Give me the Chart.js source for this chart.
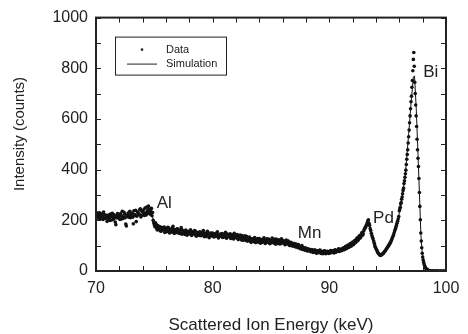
<!DOCTYPE html>
<html>
<head>
<meta charset="utf-8">
<script src="https://cdn.jsdelivr.net/npm/chart.js@4.4.0/dist/chart.umd.min.js"></script>
<style>
  html, body { margin: 0; padding: 0; background: #fff; }
</style>
</head>
<body>
<canvas id="myChart" width="468" height="334"></canvas>
<script>
const lowStart = 70.0, lowStep = 0.1;
const countsLow = [
  225, 208, 221, 230, 212, 218, 203, 224, 210, 219,
  206, 222, 199, 215, 228, 204, 213, 183, 220, 209,
  217, 226, 205, 214, 232, 210, 178, 221, 212, 236,
  218, 229, 186, 223, 240, 216, 231, 222, 245, 219,
  234, 226, 248, 221, 238, 256, 229, 236, 218, 200,
  182, 190, 168, 179, 163, 174, 158, 171, 165, 152,
  168, 157, 171, 150, 163, 159, 176, 148, 160, 154,
  166, 149, 158, 171, 145, 155, 150, 162, 141, 156,
  149, 163, 140, 152, 146, 158, 137, 150, 144, 155,
  139, 148, 160, 135, 146, 141, 152, 131, 145, 138,
  150, 134, 143, 139, 155, 130, 142, 137, 148, 133,
  141, 153, 129, 140, 136, 147, 131, 143, 126, 138,
  132, 144, 124, 136, 129, 140, 121, 133, 125, 137,
  118, 130, 124, 113, 127, 119, 132, 112, 123, 117,
  128, 110, 121, 116, 131, 109, 120, 114, 126, 108,
  119, 130, 111, 117, 106, 125, 113, 120, 107, 127,
  112, 118, 104, 122, 110, 115, 101, 113, 106, 98,
  108, 95, 103, 92, 99, 88, 96, 85, 93, 82,
  90, 79, 87, 83, 76, 85, 73, 81, 77, 70,
  79, 72, 83, 69, 76, 71, 80, 68, 77, 73,
  70, 81, 74, 78, 71, 84, 76, 80, 88, 79,
  86, 82, 92, 85, 97, 90, 102, 95, 108, 100,
  114, 107, 121, 115, 131, 125, 140, 134, 152, 147,
  165, 172, 183, 197, 188, 168, 149, 132, 118, 100,
  88, 79, 70, 64, 61, 66, 68, 75, 80, 88,
  95, 102, 110, 118, 131, 142, 158, 172, 188, 205
];
// second set of channels, half a step later
const lowStartB = 70.05;
const countsLowB = [
  212, 229, 217, 204, 226, 214, 233, 207, 220, 196,
  218, 209, 225, 201, 216, 222, 193, 210, 227, 214,
  203, 219, 236, 208, 224, 185, 217, 229, 221, 210,
  226, 212, 238, 219, 195, 233, 224, 242, 213, 236,
  241, 219, 230, 252, 227, 244, 224, 247, 231, 190,
  175, 184, 162, 176, 170, 157, 168, 162, 173, 160,
  155, 172, 161, 166, 153, 170, 158, 164, 151, 167,
  156, 161, 147, 164, 153, 159, 144, 158, 151, 146,
  157, 144, 155, 149, 160, 142, 153, 147, 140, 151,
  144, 153, 138, 149, 136, 157, 143, 137, 150, 142,
  139, 147, 136, 150, 141, 135, 146, 140, 132, 145,
  136, 131, 146, 138, 144, 128, 139, 134, 149, 132,
  138, 127, 134, 142, 123, 131, 127, 139, 120, 130,
  124, 134, 116, 126, 121, 115, 125, 120, 128, 113,
  118, 124, 113, 125, 119, 111, 127, 117, 112, 121,
  112, 122, 116, 126, 110, 118, 108, 123, 115, 111,
  119, 108, 116, 107, 119, 103, 111, 100, 109, 103,
  101, 106, 97, 104, 94, 91, 100, 89, 87, 91,
  84, 88, 80, 85, 79, 82, 76, 84, 72, 80,
  75, 81, 73, 78, 68, 79, 74, 71, 78, 69,
  77, 72, 80, 75, 82, 74, 79, 85, 77, 86,
  80, 89, 84, 94, 88, 99, 93, 105, 98, 111,
  104, 118, 112, 127, 120, 137, 130, 146, 141, 158,
  170, 178, 190, 202, 180, 160, 140, 126, 110, 94,
  84, 74, 67, 62, 63, 67, 71, 78, 84, 91,
  98, 106, 114, 124, 136, 150, 165, 180, 196, 215
];
const peakStart = 96.0, peakStep = 0.04;
const countsPeak = [
  238, 245, 252, 265, 270, 283, 292, 305, 318, 327,
  345, 356, 370, 384, 398, 420, 441, 460, 478, 505,
  530, 556, 585, 612, 640, 668, 690, 725, 752, 790,
  835, 862, 808, 745, 700, 655, 612, 570, 520, 478,
  445, 412, 365, 310, 255, 202, 150, 118, 92, 70,
  55, 44, 36, 28, 22, 17, 13, 10, 8, 6,
  5, 4, 3, 2, 2, 1
];
const tailStart = 98.7, tailStep = 0.1;
const countsTail = [1, 0, 1, 0, 0, 1, 0, 0, 0, 0, 0, 0, 0, 0];

// SIMULATION CURVE
const simEnergy = [
  70, 70.5, 71, 71.5, 72, 72.5, 73, 73.5, 74, 74.5,
  74.8, 75.0, 75.3, 75.6, 76, 76.5, 77, 77.5, 78, 78.5,
  79, 79.5, 80, 80.5, 81, 81.5, 82, 82.5, 83, 83.5,
  84, 84.5, 85, 85.5, 86, 86.5, 87, 87.5, 88, 88.5,
  89, 89.5, 90, 90.5, 91, 91.5, 92, 92.5, 93, 93.3,
  93.5, 93.8, 94.1, 94.4, 94.7, 95, 95.3, 95.6, 95.9, 96.2,
  96.5, 96.8, 97.0, 97.2, 97.3, 97.45, 97.6, 97.75, 97.85, 97.95,
  98.1, 98.3, 98.6, 99, 100
];
const simCounts = [
  218, 215, 212, 210, 212, 215, 220, 225, 230, 232,
  222, 185, 172, 166, 162, 158, 155, 152, 148, 146,
  143, 141, 140, 139, 138, 137, 133, 128, 123, 119,
  117, 116, 114, 113, 112, 110, 105, 96, 88, 82,
  78, 76, 76, 78, 84, 96, 112, 135, 165, 190,
  172, 118, 78, 64, 70, 92, 118, 158, 205, 282,
  375, 540, 660, 765, 770, 640, 460, 270, 140, 80,
  36, 14, 3, 0, 0
];

// PEAK LABELS
const peakNames = ["Al", "Mn", "Pd", "Bi"];
const peakEnergy = [75.2, 87.3, 93.75, 98.05];
const peakCounts = [268, 148, 209, 785];

// AXES
const xTickLabels = [70, 80, 90, 100];
const yTickLabels = [0, 200, 400, 600, 800, 1000];
const yTitle = "Intensity (counts)";

function toPoints(start, step, counts) {
  return counts.map(function (c, i) {
    return { x: +(start + i * step).toFixed(2), y: c };
  });
}

const measured = toPoints(lowStart, lowStep, countsLow)
  .concat(toPoints(lowStartB, lowStep, countsLowB))
  .concat(toPoints(peakStart, peakStep, countsPeak))
  .concat(toPoints(tailStart, tailStep, countsTail));

const simulated = simEnergy.map(function (e, i) {
  return { x: e, y: simCounts[i] };
});

Chart.defaults.font.family = '"Liberation Sans", Arial, Helvetica, sans-serif';
Chart.defaults.color = "#222";

// frame + inward minor ticks on all four sides, peak names, legend box, y title
const frameTicks = {
  id: "frameTicks",
  afterDraw(chart) {
    const { ctx, chartArea: a, scales } = chart;
    const x = scales.x, y = scales.y;
    ctx.save();
    ctx.strokeStyle = "#222";
    ctx.lineWidth = 1;
    ctx.beginPath();
    for (let v = 70; v <= 100; v += 2) {
      const px = Math.round(x.getPixelForValue(v)) + 0.5;
      ctx.moveTo(px, a.bottom); ctx.lineTo(px, a.bottom - 5);
      ctx.moveTo(px, a.top); ctx.lineTo(px, a.top + 5);
    }
    for (let v = 0; v <= 1000; v += 100) {
      const py = Math.round(y.getPixelForValue(v)) + 0.5;
      ctx.moveTo(a.left, py); ctx.lineTo(a.left + 5, py);
      ctx.moveTo(a.right, py); ctx.lineTo(a.right - 5, py);
    }
    ctx.stroke();
    ctx.lineWidth = 2;
    ctx.strokeRect(a.left, a.top, a.right - a.left, a.bottom - a.top);

    ctx.fillStyle = "#222";
    ctx.font = '17px "Liberation Sans", Arial, sans-serif';
    ctx.textAlign = "left";
    ctx.textBaseline = "middle";
    peakNames.forEach(function (name, i) {
      ctx.fillText(name, x.getPixelForValue(peakEnergy[i]), y.getPixelForValue(peakCounts[i]));
    });

    const lx = a.left + 19, ly = a.top + 19;
    ctx.lineWidth = 1;
    ctx.strokeRect(lx + 0.5, ly + 0.5, 111, 38);
    ctx.beginPath();
    ctx.arc(lx + 27, ly + 13, 1.3, 0, Math.PI * 2);
    ctx.fill();
    ctx.beginPath();
    ctx.moveTo(lx + 12, ly + 27.5);
    ctx.lineTo(lx + 42, ly + 27.5);
    ctx.stroke();
    ctx.font = '11px "Liberation Sans", Arial, sans-serif';
    const sets = chart.data.datasets;
    ctx.fillText(sets[0].label, lx + 51, ly + 13);
    ctx.fillText(sets[1].label, lx + 51, ly + 27);

    // y axis title, a little above the middle of the plot like the original
    ctx.translate(20, 134);
    ctx.rotate(-Math.PI / 2);
    ctx.textAlign = "center";
    ctx.font = '15px "Liberation Sans", Arial, sans-serif';
    ctx.fillText(yTitle, 0, 0);
    ctx.restore();
  }
};

const myChart = document.getElementById("myChart").getContext("2d");

const spectrumChart = new Chart(myChart, {
  type: "scatter",
  data: {
    datasets: [
      {
        label: "Data",
        data: measured,
        pointRadius: 1.8,
        pointBorderWidth: 0,
        pointBackgroundColor: "#111",
        showLine: false,
      },
      {
        label: "Simulation",
        type: "line",
        data: simulated,
        borderColor: "#111",
        borderWidth: 1,
        pointRadius: 0,
        tension: 0,
        fill: false,
      },
    ],
  },
  options: {
    responsive: false,
    animation: false,
    devicePixelRatio: 1,
    layout: { padding: { top: 15, right: 22, left: 0, bottom: 0 } },
    plugins: {
      legend: { display: false },
      tooltip: { enabled: false },
    },
    scales: {
      x: {
        type: "linear",
        min: 70,
        max: 100,
        afterFit: function (scale) { scale.height = 63; },
        afterBuildTicks: function (scale) {
          scale.ticks = xTickLabels.map(function (v) { return { value: v }; });
        },
        grid: { display: false, drawTicks: false },
        border: { display: false },
        ticks: {
          padding: 8,
          maxRotation: 0,
          font: { size: 16 },
          color: "#222",
          callback: function (value) { return String(value); },
        },
        title: {
          display: true,
          text: "Scattered Ion Energy (keV)",
          font: { size: 17, lineHeight: 1 },
          padding: { top: 0, bottom: 0 },
          color: "#222",
        },
      },
      y: {
        type: "linear",
        min: 0,
        max: 1000,
        afterFit: function (scale) { scale.width = 96; },
        afterBuildTicks: function (scale) {
          scale.ticks = yTickLabels.map(function (v) { return { value: v }; });
        },
        grid: { display: false, drawTicks: false },
        border: { display: false },
        ticks: {
          padding: 8,
          font: { size: 16 },
          color: "#222",
          callback: function (value) { return String(value); },
        },
      },
    },
  },
  plugins: [frameTicks],
});
</script>
</body>
</html>
